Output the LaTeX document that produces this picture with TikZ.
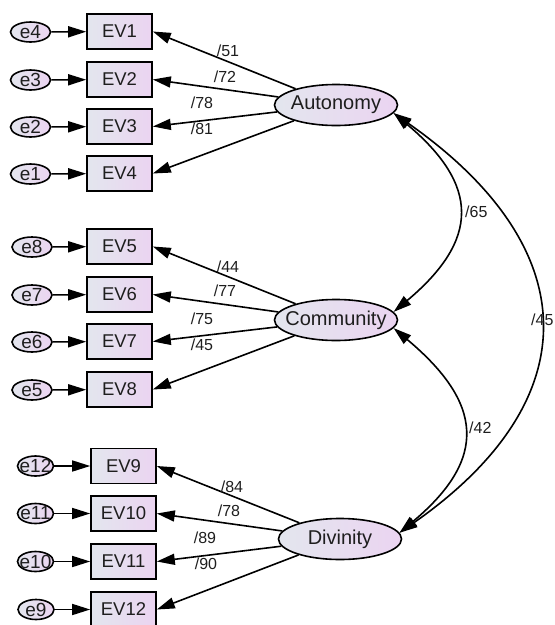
\documentclass[tikz,border=0pt]{standalone}
\usepackage{fontspec}
\setmainfont{Liberation Sans}
\usetikzlibrary{arrows.meta,shapes.geometric}
\definecolor{lft}{HTML}{E3E6EE}
\definecolor{rgt}{HTML}{EBD4F1}
\definecolor{txt}{HTML}{1E1E1E}
\begin{document}
\begin{tikzpicture}[x=1pt,y=1pt,
  obs/.style={draw, line width=1.6pt, left color=lft, right color=rgt,
    minimum width=65pt, minimum height=35pt, inner sep=0pt,
    font=\fontsize{18.5}{20}\selectfont, text=txt},
  lat/.style={ellipse, draw, line width=1.6pt, left color=lft, right color=rgt,
    minimum width=123pt, minimum height=41pt, inner sep=0pt,
    label={[font=\fontsize{20}{22}\selectfont, text=txt]center:#1}},
  err/.style={ellipse, draw, line width=1.6pt, left color=lft, right color=rgt,
    minimum width=40pt, minimum height=20pt, inner sep=0pt,
    label={[font=\fontsize{19}{20}\selectfont, text=txt]center:#1}},
  errs/.style={err=#1, minimum width=36pt},
  coef/.style={font=\fontsize{16}{18}\selectfont, inner sep=0pt, text=txt},
  arr/.style={line width=1.6pt, -{Triangle[length=18pt,width=11pt]}},
  cov/.style={line width=1.6pt, {Triangle[length=18pt,width=11pt]}-{Triangle[length=18pt,width=11pt]}},
]
\useasboundingbox (0,0) rectangle (555,-625);

% Autonomy group
\node[obs] (ev1) at (119.5,-31.5) {EV1};
\node[obs] (ev2) at (119.5,-79.5) {EV2};
\node[obs] (ev3) at (119.5,-126.5) {EV3};
\node[obs] (ev4) at (119.5,-173.5) {EV4};
\node[err=e4] (e4) at (30.5,-32) {};
\node[err=e3] (e3) at (30.5,-80) {};
\node[err=e2] (e2) at (30.5,-127) {};
\node[err=e1] (e1) at (30.5,-174) {};
\node[lat=Autonomy] (aut) at (336,-105) {};

% Community group
\node[obs] (ev5) at (119.5,-246.5) {EV5};
\node[obs] (ev6) at (119.5,-294.5) {EV6};
\node[obs] (ev7) at (119.5,-341.5) {EV7};
\node[obs] (ev8) at (119.5,-389.5) {EV8};
\node[err=e8] (e8) at (32,-247) {};
\node[err=e7] (e7) at (32,-295) {};
\node[err=e6] (e6) at (32,-342) {};
\node[err=e5] (e5) at (32,-390) {};
\node[lat=Community] (com) at (336,-320) {};

% Divinity group
\node[obs] (ev9) at (123.5,-466) {EV9};
\node[obs] (ev10) at (123.5,-513.5) {EV10};
\node[obs] (ev11) at (123.5,-561.5) {EV11};
\node[obs] (ev12) at (123.5,-609.5) {EV12};
\node[errs=e12] (e12) at (35.5,-466) {};
\node[errs=e11] (e11) at (35.5,-513.5) {};
\node[errs=e10] (e10) at (35.5,-561.5) {};
\node[errs=e9] (e9) at (36,-609.5) {};
\node[lat=Divinity] (div) at (340,-539) {};

% error arrows
\foreach \e/\v in {e4/ev1,e3/ev2,e2/ev3,e1/ev4,e8/ev5,e7/ev6,e6/ev7,e5/ev8,e12/ev9,e11/ev10,e10/ev11,e9/ev12}
  \draw[arr] (\e) -- (\v);

% loadings
\foreach \l/\v in {aut/ev1,aut/ev2,aut/ev3,aut/ev4,com/ev5,com/ev6,com/ev7,com/ev8,div/ev9,div/ev10,div/ev11,div/ev12}
  \draw[arr] (\l) -- (\v.east);

\node[coef] (c1) at (228,-51) {/51};
\node[coef] (c2) at (225,-77) {/72};
\node[coef] (c3) at (202,-103) {/78};
\node[coef] (c4) at (202,-129) {/81};
\node[coef] (c5) at (228,-267) {/44};
\node[coef] (c6) at (225,-291) {/77};
\node[coef] (c7) at (202,-319) {/75};
\node[coef] (c8) at (202,-345) {/45};
\node[coef] (c9) at (232,-487) {/84};
\node[coef] (c10) at (229,-511) {/78};
\node[coef] (c11) at (205,-538) {/89};
\node[coef] (c12) at (206,-564) {/90};

% covariances
\draw[cov] (aut.-8) to[out=-40,in=40,looseness=1.45] (com.8);
\draw[cov] (com.-8) to[out=-40,in=40,looseness=1.45] (div.6);
\draw[cov] (aut.-8) to[out=-35,in=35,looseness=1.42] (div.6);
\node[coef, anchor=west] (k1) at (465,-212) {/65};
\node[coef, anchor=west] (k2) at (469,-428) {/42};
\node[coef, anchor=west] (k3) at (531,-320) {/45};
\end{tikzpicture}
\end{document}
